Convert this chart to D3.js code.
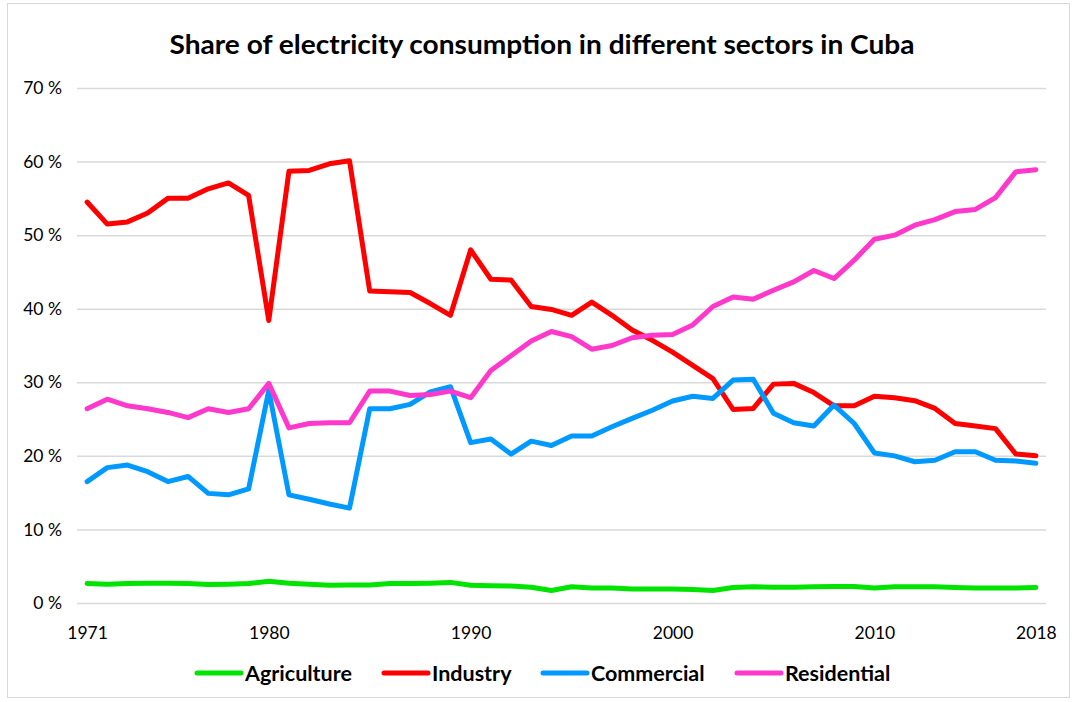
<!DOCTYPE html>
<html>
<head>
<meta charset="utf-8">
<script src="https://cdn.jsdelivr.net/npm/d3@7"></script>
<style>
  body { margin: 0; background: #fff; }
  svg { display: block; font-family: Lato, "Open Sans", sans-serif; }
</style>
</head>
<body>
<div id="chart"></div>
<script>
// Data
const years = d3.range(1971, 2019);

const agriculture = [
  2.65, 2.55, 2.65, 2.7, 2.7, 2.65, 2.5, 2.55, 2.65, 2.95,
  2.7, 2.55, 2.4, 2.45, 2.45, 2.65, 2.65, 2.7, 2.8, 2.4,
  2.35, 2.3, 2.15, 1.7, 2.2, 2.05, 2.05, 1.9, 1.9, 1.9,
  1.85, 1.7, 2.1, 2.2, 2.15, 2.15, 2.2, 2.25, 2.25, 2.05,
  2.2, 2.2, 2.2, 2.1, 2.05, 2.05, 2.05, 2.1
];

const industry = [
  54.5, 51.5, 51.8, 53.0, 55.0, 55.0, 56.3, 57.1, 55.4, 38.4,
  58.7, 58.8, 59.7, 60.1, 42.4, 42.3, 42.2, 40.7, 39.1, 48.0,
  44.0, 43.9, 40.3, 39.9, 39.1, 40.9, 39.1, 37.1, 35.7, 34.1,
  32.3, 30.5, 26.3, 26.45, 29.75, 29.85, 28.6, 26.8, 26.8, 28.1,
  27.9, 27.5, 26.45, 24.4, 24.05, 23.7, 20.25, 20.0
];

const commercial = [
  16.5, 18.4, 18.75, 17.85, 16.5, 17.2, 14.9, 14.7, 15.5, 28.9,
  14.7, 14.1, 13.45, 12.9, 26.4, 26.4, 27.0, 28.7, 29.4, 21.8,
  22.3, 20.25, 22.0, 21.4, 22.7, 22.7, 23.95, 25.1, 26.2, 27.45,
  28.1, 27.8, 30.3, 30.4, 25.8, 24.5, 24.05, 26.9, 24.4, 20.4,
  20.0, 19.2, 19.4, 20.55, 20.55, 19.4, 19.3, 19.0
];

const residential = [
  26.4, 27.7, 26.8, 26.4, 25.9, 25.2, 26.4, 25.9, 26.4, 29.85,
  23.8, 24.4, 24.5, 24.5, 28.8, 28.8, 28.2, 28.35, 28.8, 27.9,
  31.6, 33.6, 35.6, 36.9, 36.2, 34.5, 35.0, 36.05, 36.4, 36.5,
  37.8, 40.3, 41.6, 41.3, 42.5, 43.65, 45.2, 44.1, 46.6, 49.45,
  50.0, 51.35, 52.1, 53.2, 53.5, 55.1, 58.6, 58.9
];

const seriesNames = ["Agriculture", "Industry", "Commercial", "Residential"];
const seriesColors = ["#00E400", "#FF0000", "#0099FF", "#FF38CC"];
const yTicks = [0, 10, 20, 30, 40, 50, 60, 70];
const xTickYears = [1971, 1980, 1990, 2000, 2010, 2018];

const series = [agriculture, industry, commercial, residential].map((vals, i) => ({
  name: seriesNames[i],
  color: seriesColors[i],
  values: vals.map((v, j) => ({ year: years[j], value: v }))
}));

// Layout
const width = 1074, height = 702;
const margin = { top: 88, right: 28, bottom: 99, left: 77 };

const svg = d3.select("#chart").append("svg")
  .attr("width", width)
  .attr("height", height);

// outer chart border
svg.append("rect")
  .attr("x", 7.5).attr("y", 3.5)
  .attr("width", width - 12).attr("height", height - 8)
  .attr("fill", "none")
  .attr("stroke", "#d9d9d9");

const x = d3.scalePoint()
  .domain(years)
  .range([margin.left, width - margin.right])
  .padding(0.5);

const y = d3.scaleLinear()
  .domain([0, 70])
  .range([height - margin.bottom, margin.top]);

// Title
svg.append("text")
  .attr("x", 542)
  .attr("y", 54)
  .attr("text-anchor", "middle")
  .attr("font-size", 27)
  .attr("font-weight", "bold")
  .attr("fill", "#000")
  .attr("textLength", 745)
  .attr("lengthAdjust", "spacingAndGlyphs")
  .text("Share of electricity consumption in different sectors in Cuba");

// Gridlines
const yAxis = d3.axisLeft(y)
  .tickValues(yTicks)
  .tickSize(-(width - margin.left - margin.right))
  .tickPadding(15)
  .tickFormat(d => d + " %");

svg.append("g")
  .attr("transform", `translate(${margin.left},0)`)
  .call(yAxis)
  .call(g => g.select(".domain").remove())
  .call(g => g.selectAll(".tick line").attr("stroke", "#d9d9d9").attr("stroke-width", 1.5))
  .call(g => g.selectAll(".tick text")
    .attr("font-size", 17.5)
    .attr("fill", "#000")
    .attr("font-family", "Lato, sans-serif"));

// X axis labels
const xAxis = d3.axisBottom(x)
  .tickValues(xTickYears)
  .tickSize(0)
  .tickPadding(24)
  .tickFormat(d3.format("d"));

svg.append("g")
  .attr("transform", `translate(0,${y(0)})`)
  .call(xAxis)
  .call(g => g.select(".domain").remove())
  .call(g => g.selectAll(".tick text")
    .attr("font-size", 17.5)
    .attr("fill", "#000")
    .attr("font-family", "Lato, sans-serif"));

// Lines
const line = d3.line()
  .x(d => x(d.year))
  .y(d => y(d.value));

svg.append("g")
  .selectAll("path")
  .data(series)
  .join("path")
  .attr("d", d => line(d.values))
  .attr("fill", "none")
  .attr("stroke", d => d.color)
  .attr("stroke-width", 5)
  .attr("stroke-linejoin", "round")
  .attr("stroke-linecap", "round");

// Legend
const legendX = [197, 384, 543, 737];
const legend = svg.append("g").attr("transform", "translate(0,673)");

const item = legend.selectAll("g")
  .data(series)
  .join("g")
  .attr("transform", (d, i) => `translate(${legendX[i]},0)`);

item.append("line")
  .attr("x1", 0).attr("x2", 44)
  .attr("y1", 0).attr("y2", 0)
  .attr("stroke", d => d.color)
  .attr("stroke-width", 5)
  .attr("stroke-linecap", "round");

item.append("text")
  .attr("x", 48)
  .attr("y", 7.5)
  .attr("font-size", 21.5)
  .attr("font-weight", "bold")
  .attr("fill", "#000")
  .text(d => d.name);
</script>
</body>
</html>
